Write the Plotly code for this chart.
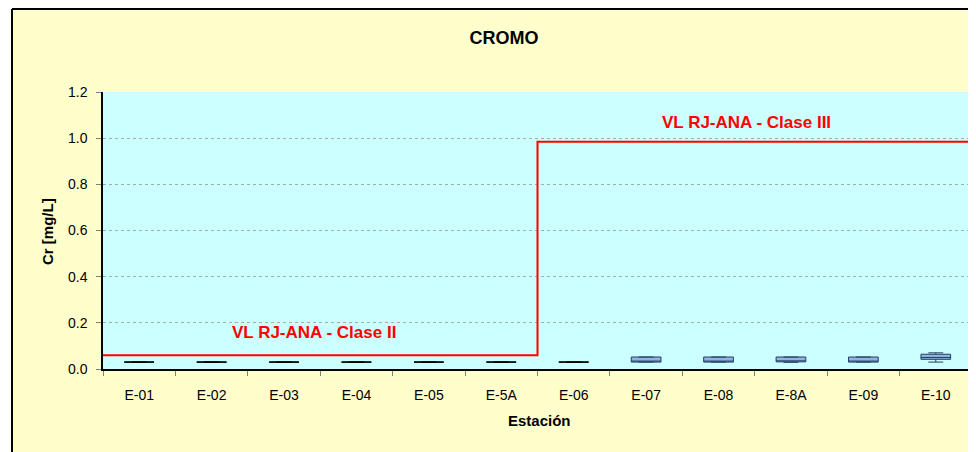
import plotly.graph_objects as go

stations = ["E-01", "E-02", "E-03", "E-04", "E-05", "E-5A",
            "E-06", "E-07", "E-08", "E-8A", "E-09", "E-10"]
cr_min = [0.030, 0.030, 0.030, 0.030, 0.030, 0.030,
          0.030, 0.030, 0.030, 0.029, 0.030, 0.030]
cr_q1 = [0.030, 0.030, 0.030, 0.030, 0.030, 0.030,
         0.030, 0.030, 0.030, 0.031, 0.030, 0.042]
cr_median = [0.030, 0.030, 0.030, 0.030, 0.030, 0.030,
             0.030, 0.030, 0.030, 0.031, 0.030, 0.050]
cr_q3 = [0.030, 0.030, 0.030, 0.030, 0.030, 0.030,
         0.030, 0.052, 0.052, 0.052, 0.052, 0.064]
cr_max = [0.030, 0.030, 0.030, 0.030, 0.030, 0.030,
          0.030, 0.052, 0.052, 0.052, 0.052, 0.070]

limit_clase_ii = 0.06
limit_clase_iii = 0.985
limit_split = 5.5  # boundary between E-5A and E-06
y_ticks = [0.0, 0.2, 0.4, 0.6, 0.8, 1.0, 1.2]

idx = list(range(len(stations)))
flat = [i for i in idx if cr_q3[i] == cr_q1[i]]
boxed = [i for i in idx if cr_q3[i] != cr_q1[i]]

def pick(arr, ids):
    return [arr[i] for i in ids]

# page has an 8px body margin: work in shifted pixel coordinates
OFF = 8
W, H = 976 - OFF, 452 - OFF
PL, PR, PT, PB = 103 - OFF, 972 - OFF, 92 - OFF, 369 - OFF
PW, PH = PR - PL, PB - PT

def px_x(x):  # reference pixel -> paper
    return (x - OFF - PL) / PW

def px_y(y):
    return (PB - (y - OFF)) / PH

fig = go.Figure()

fig.add_trace(go.Box(
    x=flat, q1=pick(cr_q1, flat), median=pick(cr_median, flat), q3=pick(cr_q3, flat),
    lowerfence=pick(cr_min, flat), upperfence=pick(cr_max, flat),
    width=0.41, fillcolor="rgba(0,0,0,0)", line=dict(color="#000000", width=1),
    boxpoints=False, showlegend=False, hoverinfo="skip"))

fig.add_trace(go.Box(
    x=boxed, q1=pick(cr_q1, boxed), median=pick(cr_median, boxed), q3=pick(cr_q3, boxed),
    lowerfence=pick(cr_min, boxed), upperfence=pick(cr_max, boxed),
    width=0.41, fillcolor="#8DB4E2", line=dict(color="#243F60", width=1),
    boxpoints=False, showlegend=False, hoverinfo="skip"))

fig.add_trace(go.Scatter(
    x=[-0.5, limit_split, limit_split, len(stations) - 0.5],
    y=[limit_clase_ii, limit_clase_ii, limit_clase_iii, limit_clase_iii],
    mode="lines", line=dict(color="#FF0000", width=2), showlegend=False, hoverinfo="skip"))

font = "Liberation Sans, Arial, sans-serif"

fig.update_layout(
    width=W, height=H,
    margin=dict(l=PL, r=W - PR, t=PT, b=H - PB, autoexpand=False),
    paper_bgcolor="#FFFFCC", plot_bgcolor="#CCFFFF",
    boxmode="overlay",
    font=dict(family=font, size=14, color="#000000"),
    title=dict(text="<b>CROMO</b>", x=(504 - OFF) / W, xref="container", xanchor="center",
               y=1 - (38 - OFF) / H, yref="container", yanchor="middle",
               font=dict(family=font, size=18, color="#000000")),
    xaxis=dict(
        range=[-0.5, len(stations) - 0.5], tickmode="array", tickvals=idx, ticktext=stations,
        ticks="", showgrid=False, zeroline=False, showline=True, linecolor="#000000", linewidth=1.5,
        ticklabelstandoff=12, tickfont=dict(size=14),
        minor=dict(tickmode="linear", tick0=-0.5, dtick=1, ticks="outside", ticklen=5,
                   tickcolor="#7f7f7f", showgrid=False),
    ),
    yaxis=dict(
        range=[0, 1.2], tickmode="array", tickvals=y_ticks, tickformat=".1f",
        ticks="outside", ticklen=5, tickcolor="#7f7f7f", ticklabelstandoff=6,
        showgrid=True, gridcolor="#9fb09f", griddash="dot", gridwidth=1,
        zeroline=False, showline=True, linecolor="#000000", linewidth=1.5,
        tickfont=dict(size=14),
    ),
    annotations=[
        dict(text="<b>Cr [mg/L]</b>", x=px_x(47), y=px_y(231), xref="paper", yref="paper",
             textangle=-90, showarrow=False, xanchor="center", yanchor="middle",
             font=dict(size=15, color="#000000")),
        dict(text="<b>Estación</b>", x=px_x(539), y=px_y(420), xref="paper", yref="paper",
             showarrow=False, xanchor="center", yanchor="middle",
             font=dict(size=15, color="#000000")),
        dict(text="<b>VL RJ-ANA - Clase II</b>", x=2.41, y=0.16, xref="x", yref="y",
             showarrow=False, xanchor="center", yanchor="middle",
             font=dict(size=17, color="#FF0000")),
        dict(text="<b>VL RJ-ANA - Clase III</b>", x=8.39, y=1.07, xref="x", yref="y",
             showarrow=False, xanchor="center", yanchor="middle",
             font=dict(size=17, color="#FF0000")),
    ],
    shapes=[
        dict(type="rect", xref="paper", yref="paper", x0=-0.3, x1=px_x(12),
             y0=-0.5, y1=1.5, fillcolor="#FFFFFF", line=dict(width=0), layer="below"),
        dict(type="rect", xref="paper", yref="paper", x0=-0.3, x1=1.2,
             y0=px_y(9), y1=1.5, fillcolor="#FFFFFF", line=dict(width=0), layer="below"),
        dict(type="line", xref="paper", yref="paper", x0=px_x(12), x1=px_x(12),
             y0=-0.5, y1=px_y(9), line=dict(color="#000000", width=2)),
        dict(type="line", xref="paper", yref="paper", x0=px_x(12), x1=1.2,
             y0=px_y(9), y1=px_y(9), line=dict(color="#000000", width=2)),
        dict(type="line", xref="paper", yref="paper", x0=1, x1=1, y0=0, y1=1,
             line=dict(color="#a0a0a0", width=1)),
    ],
)

fig.write_html("out.html")
